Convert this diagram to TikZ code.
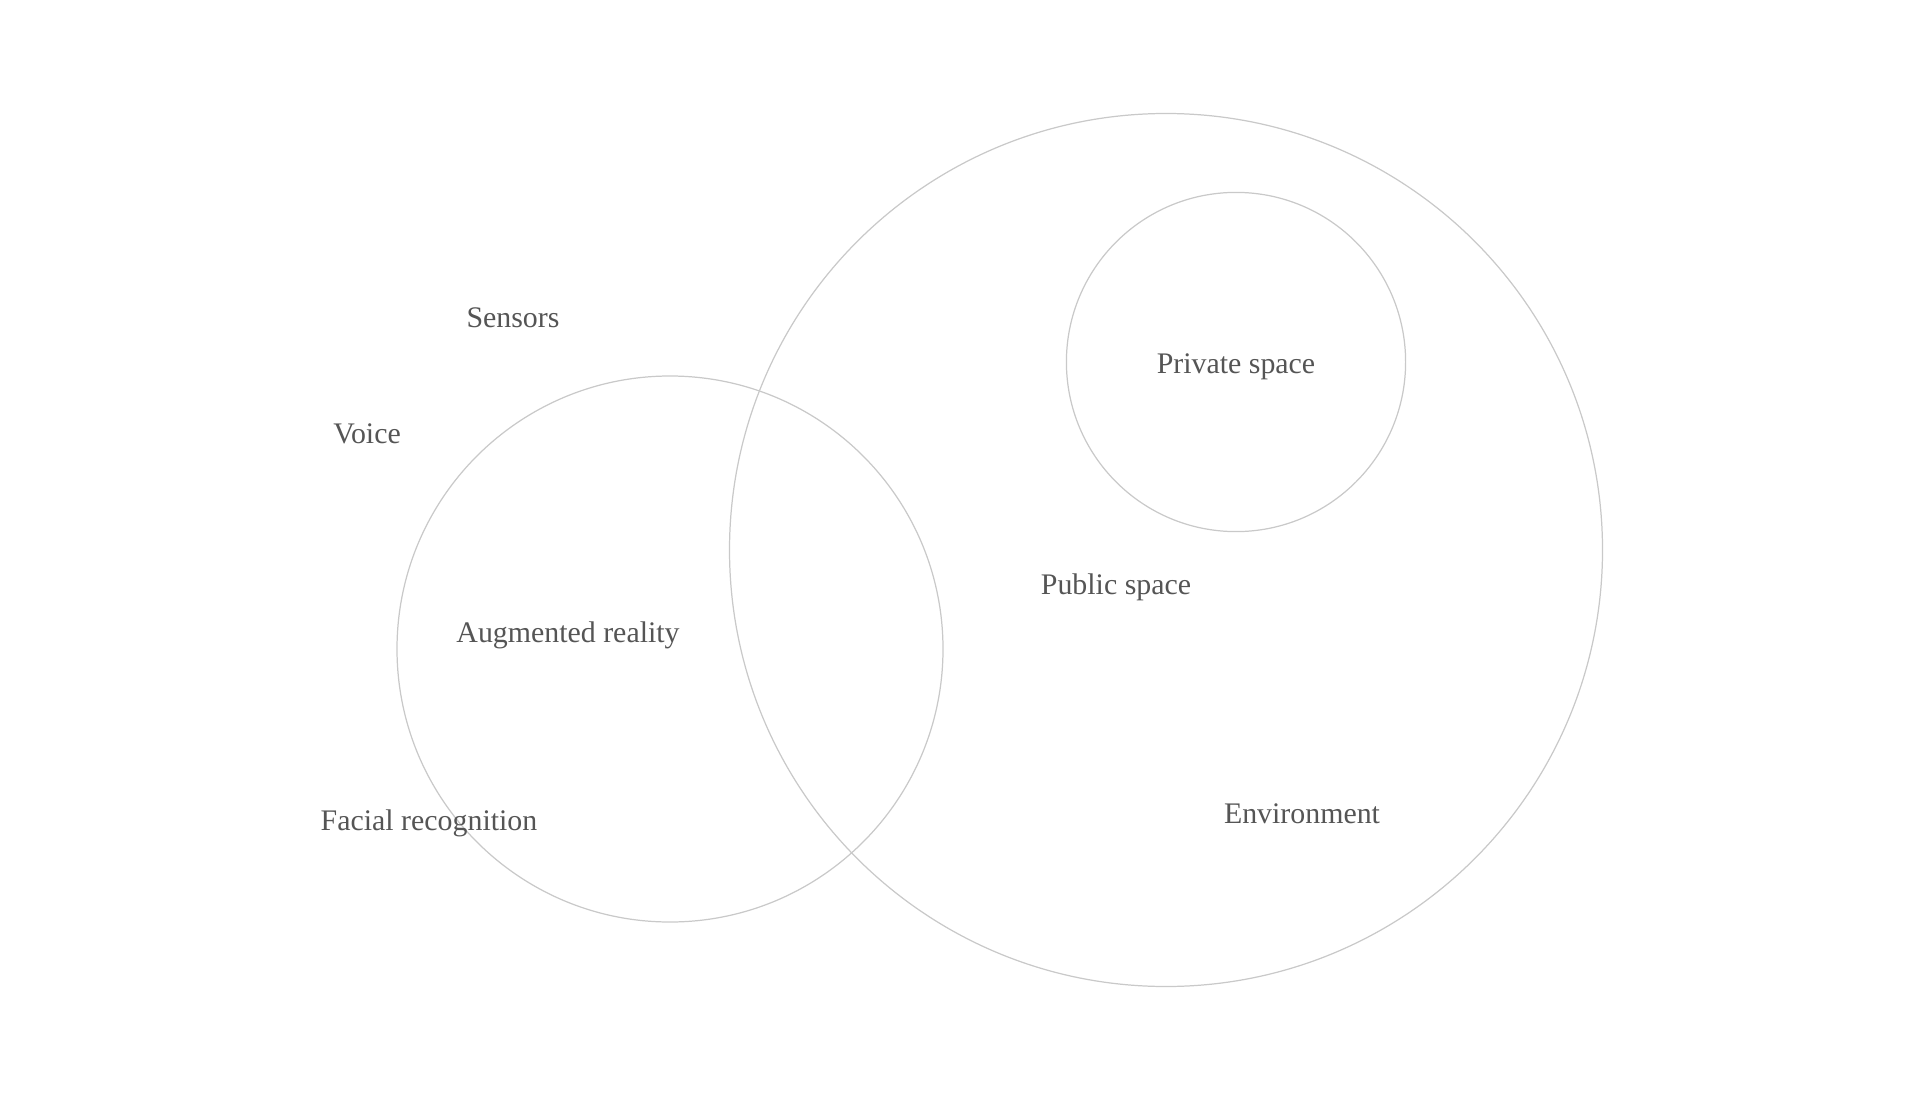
\documentclass[tikz,border=0pt]{standalone}
\usepackage{fontspec}
\setmainfont{Liberation Serif}
\usepackage{tikz}
\usetikzlibrary{positioning}

\definecolor{ringgray}{HTML}{C9C9C9}
\definecolor{textgray}{HTML}{555555}

\begin{document}
\begin{tikzpicture}[scale=1,
  ring/.style={draw=ringgray, line width=0.35pt},
  label/.style={text=textgray, font=\fontsize{8.5}{10}\selectfont, inner sep=0pt}]

% Frame
\useasboundingbox (0,0) rectangle (19.2,10.99);

% Circles
\draw[ring] (11.66,5.49) circle (4.365);
\draw[ring] (12.36,7.37) circle (1.696);
\draw[ring] (6.70,4.50) circle (2.73);

% Labels
\node[label] (sensors) at (5.13,7.81) {Sensors};
\node[label] (voice) at (3.67,6.65) {Voice};
\node[label] (augmented) at (5.68,4.64) {Augmented reality};
\node[label] (facial) at (4.29,2.76) {Facial recognition};
\node[label] (private) at (12.36,7.32) {Private space};
\node[label] (public) at (11.16,5.12) {Public space};
\node[label] (environment) at (13.02,2.85) {Environment};

\end{tikzpicture}
\end{document}
